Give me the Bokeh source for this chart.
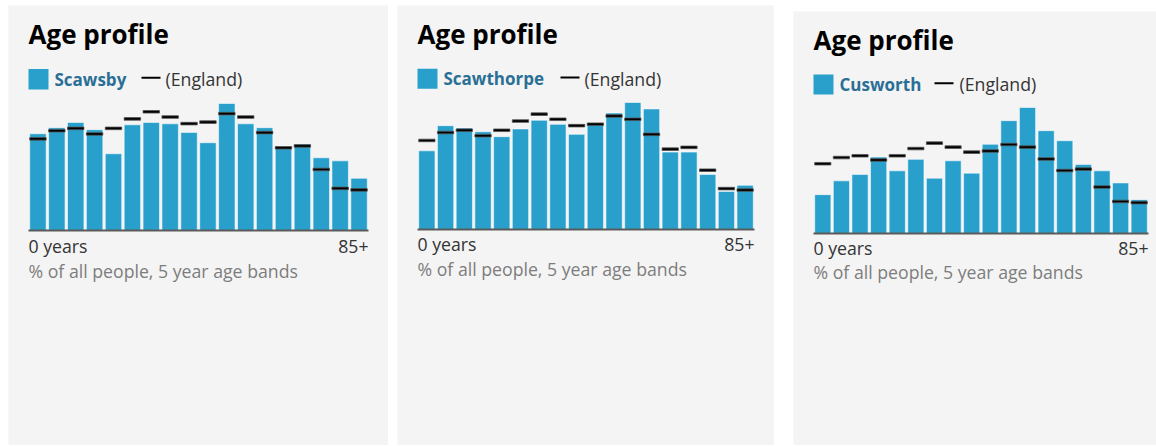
from bokeh.plotting import figure
from bokeh.layouts import row
from bokeh.models import Range1d, Label, BoxAnnotation, ColumnDataSource
from bokeh.embed import file_html
from bokeh.resources import INLINE

age_bands = ["0-4", "5-9", "10-14", "15-19", "20-24", "25-29", "30-34", "35-39", "40-44",
             "45-49", "50-54", "55-59", "60-64", "65-69", "70-74", "75-79", "80-84", "85+"]

scawsby = [5.72, 6.08, 6.39, 5.96, 4.54, 6.25, 6.39, 6.31, 5.80, 5.19, 7.51, 6.31, 6.08, 4.93, 5.11, 4.30, 4.12, 3.09]
scawthorpe = [4.79, 6.32, 6.18, 5.95, 5.65, 6.12, 6.65, 6.40, 5.79, 6.48, 7.09, 7.73, 7.34, 4.71, 4.71, 3.35, 2.32, 2.69]
cusworth = [3.02, 4.09, 4.59, 5.94, 4.87, 5.76, 4.30, 5.65, 4.69, 6.93, 8.77, 9.79, 7.99, 7.21, 5.37, 4.87, 3.93, 2.63]
england = [5.42, 5.90, 6.04, 5.71, 6.04, 6.60, 7.02, 6.71, 6.32, 6.41, 6.91, 6.71, 5.79, 4.89, 5.00, 3.61, 2.49, 2.40]

titles = ["Age profile", "Age profile", "Age profile"]
areas = ["Scawsby", "Scawthorpe", "Cusworth"]
first_label = "0 years"
last_label = "85+"
subtitle = "% of all people, 5 year age bands"

BG = "#f4f4f4"
BAR = "#29a0cc"
NAME = "#2a6f95"
FONT = "Open Sans"
TITLE_UP = 10
TEXT_UP = 6.5

# layout settings per panel (pixels relative to each panel)
# L: bar area left, FW: bar area width, T: bar area top, B: baseline (from panel top)
cfg = [
    dict(data=scawsby, W=380, H=440, margin=(0, 0, 0, 0), L=20, FW=340, T=98, B=225,
         ty=402, sq=(20, 40, 356, 376.5), ly=360, dash=(133, 152, 367.7), eng_x=157, zy=193, sy=168),
    dict(data=scawthorpe, W=377, H=440, margin=(0, 0, 0, 9), L=20, FW=337, T=97, B=224,
         ty=402, sq=(20, 40, 356.7, 376.7), ly=360.5, dash=(163, 182, 368), eng_x=187, zy=195, sy=170),
    dict(data=cusworth, W=363, H=434, margin=(6, 0, 0, 19), L=20, FW=335, T=96, B=222,
         ty=395.5, sq=(20, 40, 351, 371), ly=355, dash=(141, 160, 362.3), eng_x=166, zy=190.7, sy=167),
]

n = len(age_bands)
figs = []
for c, title, area in zip(cfg, titles, areas):
    vals = c["data"]
    ymax = max(max(vals), max(england))
    W, H, L, FW, T, B = c["W"], c["H"], c["L"], c["FW"], c["T"], c["B"]
    pitch = FW / n
    xr = Range1d(-0.5 - L / pitch, -0.5 + (W - L) / pitch)
    s = (B - T) / ymax
    yr = Range1d(-(H - B) / s, ymax + T / s)

    src = ColumnDataSource(dict(x=list(range(n)), v=vals, e=england, band=age_bands))
    p = figure(width=W, height=H, output_backend="svg", toolbar_location=None,
               x_range=xr, y_range=yr, min_border=0)
    p.margin = c["margin"]
    p.xaxis.visible = False
    p.yaxis.visible = False
    p.grid.visible = False
    p.outline_line_color = None
    p.background_fill_color = BG
    p.border_fill_color = BG

    p.vbar(x="x", top="v", bottom=0, width=0.87, source=src, fill_color=BAR,
           line_color="#ffffff", line_alpha=0.55, line_width=1)
    p.rect(x="x", y="e", width=0.87, height=2.6, height_units="screen", source=src,
           fill_color="#000000", line_color="#555555", line_width=0.8)
    p.segment(x0=[-0.5], y0=[0], x1=[n - 0.5], y1=[0], line_color="#5a5a5a", line_width=2)

    p.add_layout(Label(x=c["L"], y=c["ty"] + TITLE_UP, x_units="screen", y_units="screen", text=title,
                       text_font=FONT, text_font_size="26px", text_font_style="bold",
                       text_color="#000000", text_baseline="alphabetic"))
    l, r, b, t = c["sq"]
    p.add_layout(BoxAnnotation(left=l, right=r, bottom=b, top=t, left_units="screen",
                               right_units="screen", bottom_units="screen", top_units="screen",
                               fill_color=BAR, fill_alpha=1, line_color=None))
    p.add_layout(Label(x=L + 26, y=c["ly"] + TEXT_UP, x_units="screen", y_units="screen", text=area,
                       text_font=FONT, text_font_size="17px", text_font_style="bold",
                       text_color=NAME, text_baseline="alphabetic"))
    d0, d1, dy = c["dash"]
    p.add_layout(BoxAnnotation(left=d0, right=d1, bottom=dy - 1, top=dy + 1, left_units="screen",
                               right_units="screen", bottom_units="screen", top_units="screen",
                               fill_color="#000000", fill_alpha=1, line_color=None))
    p.add_layout(Label(x=c["eng_x"], y=c["ly"] + TEXT_UP, x_units="screen", y_units="screen",
                       text="(England)", text_font=FONT, text_font_size="17.7px",
                       text_color="#333333", text_baseline="alphabetic"))
    p.add_layout(Label(x=L, y=c["zy"] + TEXT_UP, x_units="screen", y_units="screen", text=first_label,
                       text_font=FONT, text_font_size="17.7px", text_color="#333333",
                       text_baseline="alphabetic"))
    p.add_layout(Label(x=L + FW, y=c["zy"] + TEXT_UP, x_units="screen", y_units="screen", text=last_label,
                       text_font=FONT, text_font_size="17.7px", text_color="#333333",
                       text_baseline="alphabetic", text_align="right"))
    p.add_layout(Label(x=L, y=c["sy"] + TEXT_UP, x_units="screen", y_units="screen", text=subtitle,
                       text_font=FONT, text_font_size="17.7px", text_color="#7d7d7d",
                       text_baseline="alphabetic"))
    figs.append(p)

layout = row(*figs)
layout.margin = (5, 0, 0, 8)

open("out.html", "w").write(file_html(layout, INLINE))
